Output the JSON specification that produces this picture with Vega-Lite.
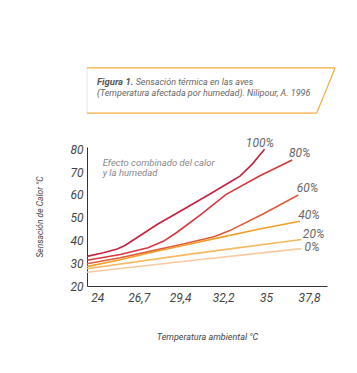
{
  "$schema": "https://vega.github.io/schema/vega-lite/v6.json",
  "width": 240,
  "height": 139,
  "autosize": "none",
  "padding": {"left": 87, "top": 147, "right": 30, "bottom": 87},
  "background": "white",
  "config": {
    "view": {"stroke": null},
    "font": "Roboto, sans-serif"
  },
  "encoding": {
    "x": {
      "field": "x", "type": "quantitative",
      "scale": {"domain": [23.33, 38.97], "nice": false, "zero": false},
      "axis": {
        "values": [24, 26.7, 29.4, 32.2, 35, 37.8],
        "labelExpr": "replace(format(datum.value, '.1~f'), '.', ',')",
        "ticks": false, "grid": false,
        "domainColor": "#333", "domainWidth": 1,
        "labelFont": "Roboto, sans-serif",
        "labelFontStyle": "italic", "labelFontSize": 12, "labelColor": "#444",
        "labelPadding": 6,
        "title": "Temperatura  ambiental  °C",
        "titleFont": "Roboto, sans-serif",
        "titleFontStyle": "italic", "titleFontWeight": "normal", "titleFontSize": 9,
        "titleColor": "#444", "titlePadding": 29
      }
    },
    "y": {
      "field": "y", "type": "quantitative",
      "scale": {"domain": [20, 81], "nice": false, "zero": false},
      "axis": {
        "values": [20, 30, 40, 50, 60, 70, 80],
        "ticks": false, "grid": false,
        "domainColor": "#333", "domainWidth": 1,
        "labelFont": "Roboto, sans-serif",
        "labelFontStyle": "italic", "labelFontSize": 12, "labelColor": "#444",
        "labelPadding": 4,
        "title": "Sensación  de  Calor  °C",
        "titleFont": "Roboto, sans-serif",
        "titleFontStyle": "italic", "titleFontWeight": "normal", "titleFontSize": 8.5,
        "titleColor": "#444", "titlePadding": 25
      }
    }
  },
  "layer": [
    {
      "data": {"values": [
        {"h": "100%", "x": 23.33, "y": 33.0},
        {"h": "100%", "x": 24.4, "y": 34.6},
        {"h": "100%", "x": 25.3, "y": 36.2},
        {"h": "100%", "x": 25.8, "y": 37.8},
        {"h": "100%", "x": 26.6, "y": 41.3},
        {"h": "100%", "x": 27.9, "y": 47.0},
        {"h": "100%", "x": 29.6, "y": 53.6},
        {"h": "100%", "x": 31.4, "y": 60.6},
        {"h": "100%", "x": 32.6, "y": 65.4},
        {"h": "100%", "x": 33.3, "y": 68.2},
        {"h": "100%", "x": 34.1, "y": 73.5},
        {"h": "100%", "x": 34.9, "y": 80.0},
        {"h": "80%", "x": 23.33, "y": 31.3},
        {"h": "80%", "x": 25.5, "y": 33.8},
        {"h": "80%", "x": 27.3, "y": 36.8},
        {"h": "80%", "x": 28.3, "y": 39.6},
        {"h": "80%", "x": 29.2, "y": 43.6},
        {"h": "80%", "x": 30.7, "y": 51.1},
        {"h": "80%", "x": 32.4, "y": 60.2},
        {"h": "80%", "x": 34.6, "y": 68.4},
        {"h": "80%", "x": 36.7, "y": 75.3},
        {"h": "60%", "x": 23.33, "y": 29.8},
        {"h": "60%", "x": 25.5, "y": 32.4},
        {"h": "60%", "x": 27.5, "y": 35.3},
        {"h": "60%", "x": 29.6, "y": 38.4},
        {"h": "60%", "x": 31.6, "y": 41.6},
        {"h": "60%", "x": 32.6, "y": 44.2},
        {"h": "60%", "x": 34.8, "y": 51.6},
        {"h": "60%", "x": 37.1, "y": 59.9},
        {"h": "40%", "x": 23.33, "y": 28.5},
        {"h": "40%", "x": 25.5, "y": 31.5},
        {"h": "40%", "x": 27.5, "y": 34.7},
        {"h": "40%", "x": 29.6, "y": 37.8},
        {"h": "40%", "x": 31.8, "y": 41.0},
        {"h": "40%", "x": 34.5, "y": 44.9},
        {"h": "40%", "x": 37.2, "y": 48.4},
        {"h": "20%", "x": 23.33, "y": 27.6},
        {"h": "20%", "x": 30.3, "y": 34.2},
        {"h": "20%", "x": 37.3, "y": 40.4},
        {"h": "0%", "x": 23.33, "y": 26.0},
        {"h": "0%", "x": 30.3, "y": 31.3},
        {"h": "0%", "x": 37.3, "y": 36.4}
      ]},
      "mark": {"type": "line", "strokeWidth": 1.6},
      "encoding": {
        "color": {
          "field": "h", "type": "nominal", "legend": null,
          "scale": {
            "domain": ["100%", "80%", "60%", "40%", "20%", "0%"],
            "range": ["#c4223e", "#d9363e", "#e05a3a", "#f0a028", "#f5b860", "#f7c9a0"]
          }
        }
      }
    },
    {
      "data": {"values": [
        {"t": "100%", "x": 34.6, "y": 82.6},
        {"t": "80%", "x": 37.2, "y": 78.2},
        {"t": "60%", "x": 37.7, "y": 62.8},
        {"t": "40%", "x": 37.8, "y": 51.1},
        {"t": "20%", "x": 38.1, "y": 42.7},
        {"t": "0%", "x": 38.0, "y": 37.1}
      ]},
      "mark": {"type": "text", "align": "center", "baseline": "middle", "fontStyle": "italic", "fontSize": 12, "color": "#666"},
      "encoding": {"text": {"field": "t"}}
    },
    {
      "data": {"values": [
        {"t": "Efecto combinado del calor", "x": 24.35, "y": 73.8},
        {"t": "y la humedad", "x": 24.35, "y": 69.4}
      ]},
      "mark": {"type": "text", "align": "left", "baseline": "middle", "fontStyle": "italic", "fontSize": 9.5, "color": "#888"},
      "encoding": {"text": {"field": "t"}}
    },
    {
      "data": {"values": [
        {"t": "Figura 1.", "x": 23.98, "y": 108.3}
      ]},
      "mark": {"type": "text", "align": "left", "baseline": "alphabetic", "fontStyle": "italic", "fontWeight": "bold", "fontSize": 9.5, "color": "#555"},
      "encoding": {"text": {"field": "t"}}
    },
    {
      "data": {"values": [
        {"t": "Sensación térmica en las aves", "x": 26.5, "y": 108.3},
        {"t": "(Temperatura afectada por humedad).  Nilipour, A. 1996", "x": 23.98, "y": 103.2}
      ]},
      "mark": {"type": "text", "align": "left", "baseline": "alphabetic", "fontStyle": "italic", "fontSize": 9, "color": "#666"},
      "encoding": {"text": {"field": "t"}}
    },
    {
      "data": {"values": [
        {"x": 23.33, "y": 115.7, "x2": 39.5, "y2": 115.7},
        {"x": 39.5, "y": 115.7, "x2": 38.3, "y2": 95.9},
        {"x": 23.33, "y": 95.9, "x2": 38.3, "y2": 95.9}
      ]},
      "mark": {"type": "rule", "color": "#f2ad3f", "strokeWidth": 1.2},
      "encoding": {"x2": {"field": "x2"}, "y2": {"field": "y2"}}
    },
    {
      "data": {"values": [
        {"x": 23.33, "y": 115.7, "x2": 23.33, "y2": 95.9}
      ]},
      "mark": {"type": "rule", "color": "#e4e4e4", "strokeWidth": 1},
      "encoding": {"x2": {"field": "x2"}, "y2": {"field": "y2"}}
    }
  ]
}
